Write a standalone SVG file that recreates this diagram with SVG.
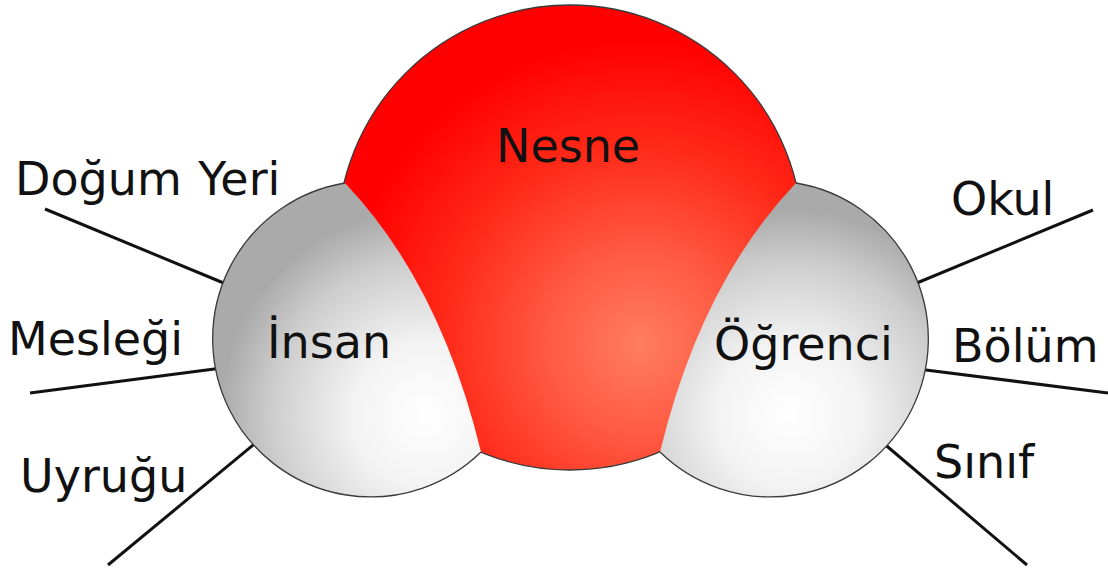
<svg xmlns="http://www.w3.org/2000/svg" width="1108" height="576" viewBox="0 0 1108 576">
  <defs>
    <!-- sphere shading -->
    <radialGradient id="redShade" gradientUnits="userSpaceOnUse" cx="640" cy="340" r="300" fx="640" fy="345">
      <stop offset="0" stop-color="#ff7d60"/>
      <stop offset="0.3" stop-color="#ff5b43"/>
      <stop offset="0.65" stop-color="#ff2a18"/>
      <stop offset="1" stop-color="#ff0000"/>
    </radialGradient>
    <radialGradient id="whiteShadeL" gradientUnits="userSpaceOnUse" cx="425" cy="415" r="205">
      <stop offset="0" stop-color="#ffffff"/>
      <stop offset="0.35" stop-color="#f3f3f3"/>
      <stop offset="0.75" stop-color="#cdcdcd"/>
      <stop offset="1" stop-color="#aaaaaa"/>
    </radialGradient>
    <radialGradient id="whiteShadeR" gradientUnits="userSpaceOnUse" cx="790" cy="415" r="205">
      <stop offset="0" stop-color="#ffffff"/>
      <stop offset="0.35" stop-color="#f3f3f3"/>
      <stop offset="0.75" stop-color="#cdcdcd"/>
      <stop offset="1" stop-color="#aaaaaa"/>
    </radialGradient>
  </defs>
  <style>
    .label { font-family: "DejaVu Sans", "Verdana", sans-serif; font-size: 46px; fill: #111; }
    .link { stroke: #111; stroke-width: 3; fill: none; stroke-linecap: butt; }
    .rim { stroke: #3a3a3a; stroke-width: 1.3; fill: none; }
  </style>

  <rect width="1108" height="576" fill="#ffffff"/>

  <!-- attribute connectors -->
  <g id="connectors">
    <line class="link" x1="45" y1="209" x2="226" y2="284"/>
    <line class="link" x1="30" y1="393" x2="222" y2="368"/>
    <line class="link" x1="108" y1="565" x2="258" y2="441"/>
    <line class="link" x1="912" y1="285" x2="1093" y2="210"/>
    <line class="link" x1="918" y1="369" x2="1108" y2="393"/>
    <line class="link" x1="882" y1="442" x2="1027" y2="565"/>
  </g>

  <!-- central sphere -->
  <g id="node-nesne">
    <circle cx="570" cy="237.5" r="232.5" fill="url(#redShade)" stroke="#3a3a3a" stroke-width="1.3"/>
    <text class="label" x="496" y="162">Nesne</text>
  </g>

  <!-- left sphere -->
  <g id="node-insan">
    <path d="M345,183 A158,158 0 1 0 481,452 Q440,283 345,183 Z" fill="url(#whiteShadeL)"/>
    <path class="rim" d="M345,183 A158,158 0 1 0 481,452"/>
    <text class="label" x="267" y="358">İnsan</text>
  </g>

  <!-- right sphere -->
  <g id="node-ogrenci">
    <path d="M796,183 A158,158 0 1 1 660,452 Q701,283 796,183 Z" fill="url(#whiteShadeR)"/>
    <path class="rim" d="M796,183 A158,158 0 1 1 660,452"/>
    <text class="label" x="714" y="360">Öğrenci</text>
  </g>

  <!-- attribute labels -->
  <g id="attr-dogum-yeri"><text class="label" x="15" y="195" word-spacing="2">Doğum Yeri</text></g>
  <g id="attr-meslegi"><text class="label" x="8" y="355">Mesleği</text></g>
  <g id="attr-uyrugu"><text class="label" x="20" y="492">Uyruğu</text></g>
  <g id="attr-okul"><text class="label" x="951" y="215">Okul</text></g>
  <g id="attr-bolum"><text class="label" x="952" y="362">Bölüm</text></g>
  <g id="attr-sinif"><text class="label" x="934" y="478">Sınıf</text></g>
</svg>
